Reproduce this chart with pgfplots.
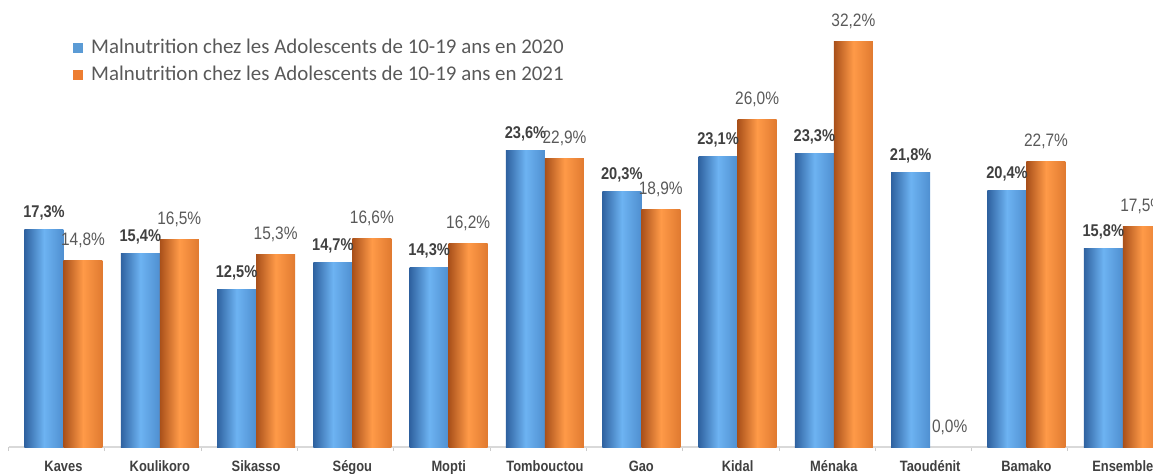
\documentclass[border=0pt]{standalone}
\usepackage{pgfplots}
\pgfplotsset{compat=1.18}
\usepackage{fontspec}
\setmainfont{Liberation Sans}
\newfontfamily\narrowfont[FakeStretch=0.86]{Liberation Sans}
\newfontfamily\legfont{Carlito}
\definecolor{blueD}{HTML}{2F62A0}
\definecolor{blueL}{HTML}{6DB3F2}
\definecolor{blueM}{HTML}{4F8FD0}
\definecolor{orD}{HTML}{A9501A}
\definecolor{orL}{HTML}{FF9A48}
\definecolor{orM}{HTML}{E07A30}
\definecolor{legblue}{HTML}{5B9BD5}
\definecolor{legorange}{HTML}{ED7D31}
\definecolor{txt}{HTML}{404040}
\definecolor{txtg}{HTML}{595959}
\pgfplotsset{
  b20/.style={forget plot, draw=none, bar shift=-9.75pt, left color=blueD, right color=blueM, middle color=blueL,
    every node near coord/.append style={anchor=base, yshift=6pt, inner sep=0pt,
      font=\narrowfont\bfseries\fontsize{8.5}{10}\selectfont, text=txt}},
  b21/.style={forget plot, draw=none, bar shift=9.75pt, left color=orD, right color=orM, middle color=orL,
    every node near coord/.append style={anchor=base, yshift=7.5pt, inner sep=0pt,
      font=\narrowfont\fontsize{9}{10}\selectfont, text=txtg}},
}
\begin{document}
\begin{tikzpicture}
\begin{axis}[
  at={(0,0)}, anchor=south west,
  x=48.15pt, y=6.29pt,
  xmin=-0.57, xmax=11.43, ymin=0, ymax=36,
  axis x line*=bottom, axis y line=none,
  axis line style={draw=black!15, line width=0.6pt},
  ybar=0pt, bar width=19.5pt,
  clip=false,
  xtick={0,...,11},
  xticklabels={Kaves,Koulikoro,Sikasso,Ségou,Mopti,Tombouctou,Gao,Kidal,Ménaka,Taoudénit,Bamako,Ensemble},
  major tick length=0pt,
  minor xtick={-0.57,0.43,1.43,2.43,3.43,4.43,5.43,6.43,7.43,8.43,9.43,10.43,11.43},
  minor tick length=2pt,
  xtick align=outside,
  minor tick style={draw=black!20, line width=0.5pt},
  xticklabel style={font=\narrowfont\bfseries\fontsize{7.5}{9}\selectfont, text=txt, anchor=base, yshift=-12pt},
  /pgf/number format/assume math mode=true,
  nodes near coords={\pgfmathprintnumber[fixed,fixed zerofill,precision=1,use comma]{\pgfplotspointmeta}\%},
  legend style={at={(0.0557,0.901)}, anchor=north west, draw=none, fill=none,
    font=\legfont\fontsize{10.45}{12}\selectfont, text=txtg, row sep=4.5pt, inner sep=0pt,
    nodes={inner sep=0pt}, /tikz/every odd column/.append style={column sep=4pt}},
  legend cell align=left,
]
% 2020
\addplot[b20] coordinates {(0,17.3)};
\addplot[b20] coordinates {(1,15.4)};
\addplot[b20] coordinates {(2,12.5)};
\addplot[b20] coordinates {(3,14.7)};
\addplot[b20] coordinates {(4,14.3)};
\addplot[b20] coordinates {(5,23.6)};
\addplot[b20] coordinates {(6,20.3)};
\addplot[b20] coordinates {(7,23.1)};
\addplot[b20] coordinates {(8,23.3)};
\addplot[b20] coordinates {(9,21.8)};
\addplot[b20] coordinates {(10,20.4)};
\addplot[b20] coordinates {(11,15.8)};
% 2021
\addplot[b21] coordinates {(0,14.8)};
\addplot[b21] coordinates {(1,16.5)};
\addplot[b21] coordinates {(2,15.3)};
\addplot[b21] coordinates {(3,16.6)};
\addplot[b21] coordinates {(4,16.2)};
\addplot[b21] coordinates {(5,22.9)};
\addplot[b21] coordinates {(6,18.9)};
\addplot[b21] coordinates {(7,26.0)};
\addplot[b21] coordinates {(8,32.2)};
\addplot[b21] coordinates {(9,0.0)};
\addplot[b21] coordinates {(10,22.7)};
\addplot[b21] coordinates {(11,17.5)};
\addlegendimage{legend image code/.code={\fill[legblue] (0pt,-2.25pt) rectangle (4.5pt,2.25pt);}}
\addlegendentry{Malnutrition chez les Adolescents de 10-19 ans en 2020}
\addlegendimage{legend image code/.code={\fill[legorange] (0pt,-2.25pt) rectangle (4.5pt,2.25pt);}}
\addlegendentry{Malnutrition chez les Adolescents de 10-19 ans en 2021}
\end{axis}
\pgfresetboundingbox
\path[use as bounding box] (-4.3pt,-13pt) rectangle (572.2pt,223.5pt);
\end{tikzpicture}
\end{document}
